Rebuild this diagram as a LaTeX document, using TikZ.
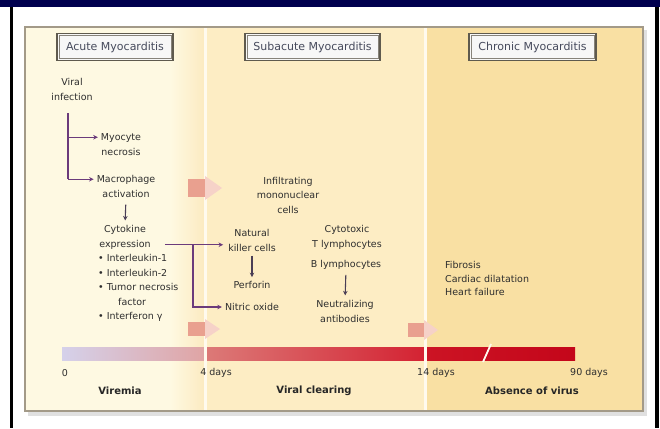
\documentclass[tikz,border=0pt]{standalone}
\usepackage{fontspec}
\setmainfont{DejaVu Sans}
\usetikzlibrary{arrows.meta,calc}
\definecolor{navy}{HTML}{00004E}
\definecolor{acutebg}{HTML}{FEF9E2}
\definecolor{acuteedge}{HTML}{FCEAC0}
\definecolor{subbg}{HTML}{FDEDC4}
\definecolor{chronbg}{HTML}{F9E0A3}
\definecolor{panelrule}{HTML}{A39A88}
\definecolor{purp}{HTML}{6B3B7B}
\definecolor{darrc}{HTML}{4A3E55}
\definecolor{txt}{HTML}{2E2E2E}
\definecolor{hdrtxt}{HTML}{464A5C}
\definecolor{hdrrule}{HTML}{5F5A4E}
\definecolor{salmon}{HTML}{E9A08F}
\definecolor{salmonlt}{HTML}{F6D2C8}
\definecolor{barA}{HTML}{D5D1EA}
\definecolor{barB}{HTML}{E0A4A4}
\definecolor{barC}{HTML}{DC7A78}
\definecolor{barD}{HTML}{D42232}
\definecolor{barE}{HTML}{CC1424}
\definecolor{barF}{HTML}{C4061A}
\definecolor{sepc}{HTML}{FFFAEE}
\tikzset{
  hdr/.style={draw=hdrrule, line width=1.3pt, fill=black!3, text=hdrtxt,
    font=\fontsize{11}{13}\selectfont, minimum height=27pt, inner sep=0pt},
  hdrin/.style={draw=hdrrule!75, line width=0.6pt},
  lbl/.style={text=txt, font=\fontsize{9.5}{14.5}\selectfont, align=center, inner sep=0pt},
  lbll/.style={text=txt, font=\fontsize{9.5}{14.5}\selectfont, align=left, inner sep=0pt},
  tick/.style={text=txt, font=\fontsize{9.5}{11}\selectfont, inner sep=0pt},
  phase/.style={text=black!85, font=\fontsize{10}{12}\selectfont\bfseries, inner sep=0pt},
  pa/.style={draw=purp, line width=1.3pt, -{Stealth[length=4.5pt,width=4.5pt]}},
  pline/.style={draw=purp, line width=1.3pt},
  darr/.style={draw=darrc, line width=1.1pt, -{Stealth[length=4.5pt,width=4.5pt]}}
}
\begin{document}
\begin{tikzpicture}[x=1pt,y=-1pt]
\useasboundingbox (0,0) rectangle (660,428);
\fill[white] (0,0) rectangle (660,428);
\fill[navy] (0,0) rectangle (660,7);
\fill[black] (10,7) rectangle (13,428);
\fill[black] (655,7) rectangle (659,428);
% panel
\fill[black!12] (28,30) rectangle (647,416);
\fill[acutebg] (25,27) rectangle (205,411);
\shade[left color=acutebg, right color=acuteedge] (170,27) rectangle (205,411);
\fill[subbg] (205,27) rectangle (425,411);
\fill[chronbg] (425,27) rectangle (643,411);
% timeline bar
\shade[left color=barA, right color=barB] (62,347) rectangle (205,360);
\shade[left color=barC, right color=barD] (205,347) rectangle (425,360);
\shade[left color=barE, right color=barF] (425,347) rectangle (575,360);
\draw[sepc, line width=1.8pt] (483,362) -- (491,344);
% separators
\fill[sepc] (203.5,27) rectangle (206.5,411);
\fill[sepc] (423.5,27) rectangle (426.5,411);
\draw[panelrule, line width=1.5pt] (25,27) rectangle (643,411);
% block arrows
\fill[salmon] (188,179) rectangle (206,197);
\fill[salmonlt] (205,176) -- (222,188) -- (205,200) -- cycle;
\fill[salmon] (188,322) rectangle (206,336);
\fill[salmonlt] (205,319) -- (220,329) -- (205,339) -- cycle;
\fill[salmon] (408,323) rectangle (425,337);
\fill[salmonlt] (424,320) -- (438,330) -- (424,340) -- cycle;
% headers
\node[hdr, minimum width=116pt] (hA) at (115,47) {Acute Myocarditis};
\node[hdr, minimum width=135pt] (hS) at (312.5,47) {Subacute Myocarditis};
\node[hdr, minimum width=127pt] (hC) at (532.5,47) {Chronic Myocarditis};
\foreach \h in {hA,hS,hC}
  \draw[hdrin] ([xshift=2.6pt,yshift=-2.6pt]\h.north west) rectangle ([xshift=-2.6pt,yshift=2.6pt]\h.south east);
% acute
\node[lbl] (vi) at (72,89.5) {Viral\\infection};
\node[lbl] (myo) at (121,144.5) {Myocyte\\necrosis};
\node[lbl] (mac) at (126,186.5) {Macrophage\\activation};
\node[lbl] (cyt) at (125,237.5) {Cytokine\\expression};
\node[lbll, anchor=west] (lst) at (98,288) {• Interleukin-1\\• Interleukin-2\\• Tumor necrosis\\\hspace*{20pt}factor\\• Interferon γ};
% subacute
\node[lbl] (inf) at (288,195) {Infiltrating\\mononuclear\\cells};
\node[lbl] (nk) at (252,240.5) {Natural\\killer cells};
\node[lbl] (perf) at (252,285) {Perforin};
\node[lbl] (no) at (252,307) {Nitric oxide};
\node[lbl] (ctl) at (347,237.5) {Cytotoxic\\T lymphocytes};
\node[lbl] (bl) at (346,265) {B lymphocytes};
\node[lbl] (nab) at (345,311.5) {Neutralizing\\antibodies};
% chronic
\node[lbll, anchor=west, font=\fontsize{9.5}{13.5}\selectfont] (chr) at (445,278.5) {Fibrosis\\Cardiac dilatation\\Heart failure};
% timeline labels
\node[tick] (tk0) at (65,373) {0};
\node[tick] (tk4) at (216,373) {4 days};
\node[tick] (tk14) at (436,373) {14 days};
\node[tick] (tk90) at (589,373) {90 days};
\node[phase] (ph1) at (120,391) {Viremia};
\node[phase] (ph2) at (314,391) {Viral clearing};
\node[phase] (ph3) at (532,391) {Absence of virus};
% connectors
\coordinate (trunk) at (68,113);
\coordinate (myoIn) at ([yshift=7.25pt]myo.west);
\coordinate (macIn) at ([yshift=7.25pt]mac.west);
\draw[pline] (trunk) -- (trunk |- macIn);
\draw[pa, shorten >=3pt] (trunk |- myoIn) -- (myoIn);
\draw[pa, shorten >=3pt] (trunk |- macIn) -- (macIn);
\draw[darr, shorten <=7pt, shorten >=5pt] (mac.south) -- (cyt.north);
\coordinate (cytOut) at ([yshift=-7.25pt, xshift=14pt]cyt.east);
\draw[pa, shorten >=5pt] (cytOut) -- (nk.west |- cytOut);
\coordinate (brx) at (193,0);
\coordinate (br) at (brx |- cytOut);
\draw[pa, shorten >=3pt] (br) |- (no.west);
\draw[darr, shorten <=4pt, shorten >=4pt] (nk.south) -- (perf.north);
\draw[darr, shorten <=5pt, shorten >=5pt] (bl.south) -- (nab.north);
\end{tikzpicture}
\end{document}
